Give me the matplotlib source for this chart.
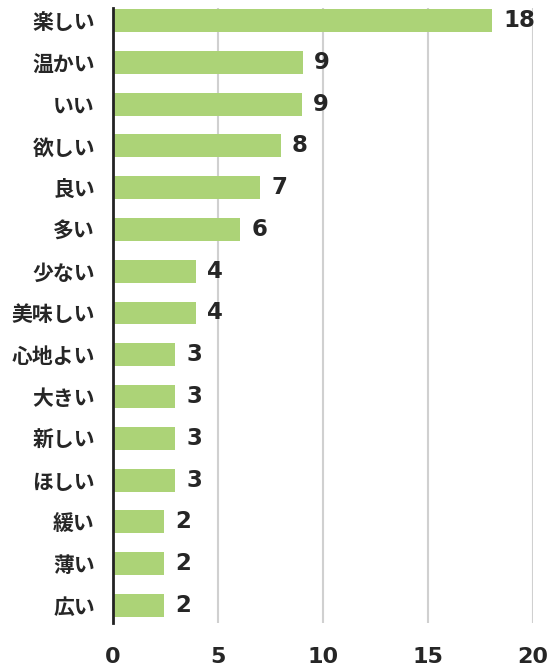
import matplotlib
matplotlib.use("Agg")
import matplotlib.pyplot as plt

categories = ["楽しい", "温かい", "いい", "欲しい", "良い", "多い", "少ない", "美味しい",
              "心地よい", "大きい", "新しい", "ほしい", "緩い", "薄い", "広い"]
values = [18.05, 9.05, 9.0, 8.0, 7.0, 6.05, 3.95, 3.95, 2.95, 2.95, 2.95, 2.95, 2.43, 2.43, 2.43]
value_labels = ["18", "9", "9", "8", "7", "6", "4", "4", "3", "3", "3", "3", "2", "2", "2"]
xticks = [0, 5, 10, 15, 20]

plt.rcParams['font.family'] = ['Noto Sans CJK JP', 'DejaVu Sans']
text_color = "#262626"
num_font = ['DejaVu Sans']

fig = plt.figure(figsize=(5.52, 6.66), dpi=100)
ax = fig.add_axes([113/552, 1-623/666, 420/552, 615/666])

y = list(range(len(categories)))
ax.barh(y, values, height=0.55, color="#acd377", zorder=3)

for yi, v, lab in zip(y, values, value_labels):
    ax.annotate(lab, (v, yi), xytext=(8, 0), textcoords="offset points",
                va="center", ha="left", fontsize=16.5, fontweight="bold",
                color=text_color, family=num_font)

ax.set_xlim(0, 20)
ax.set_ylim(14.42, -0.3)
ax.set_xticks(xticks)
ax.set_xticklabels([str(t) for t in xticks], fontsize=16, fontweight="bold",
                   color=text_color, family=num_font)
ax.set_yticks(y)
ax.set_yticklabels(categories, fontsize=15, fontweight="bold", color=text_color)
ax.tick_params(axis="x", length=0, pad=17)
ax.tick_params(axis="y", length=0, pad=13)

ax.grid(axis="x", color="#d0d0d0", linewidth=1.5, zorder=0)
for s in ["top", "right", "bottom"]:
    ax.spines[s].set_visible(False)
ax.spines["left"].set_color("#222222")
ax.spines["left"].set_linewidth(2)
ax.spines["left"].set_zorder(4)

fig.savefig("out.png", dpi=100)
